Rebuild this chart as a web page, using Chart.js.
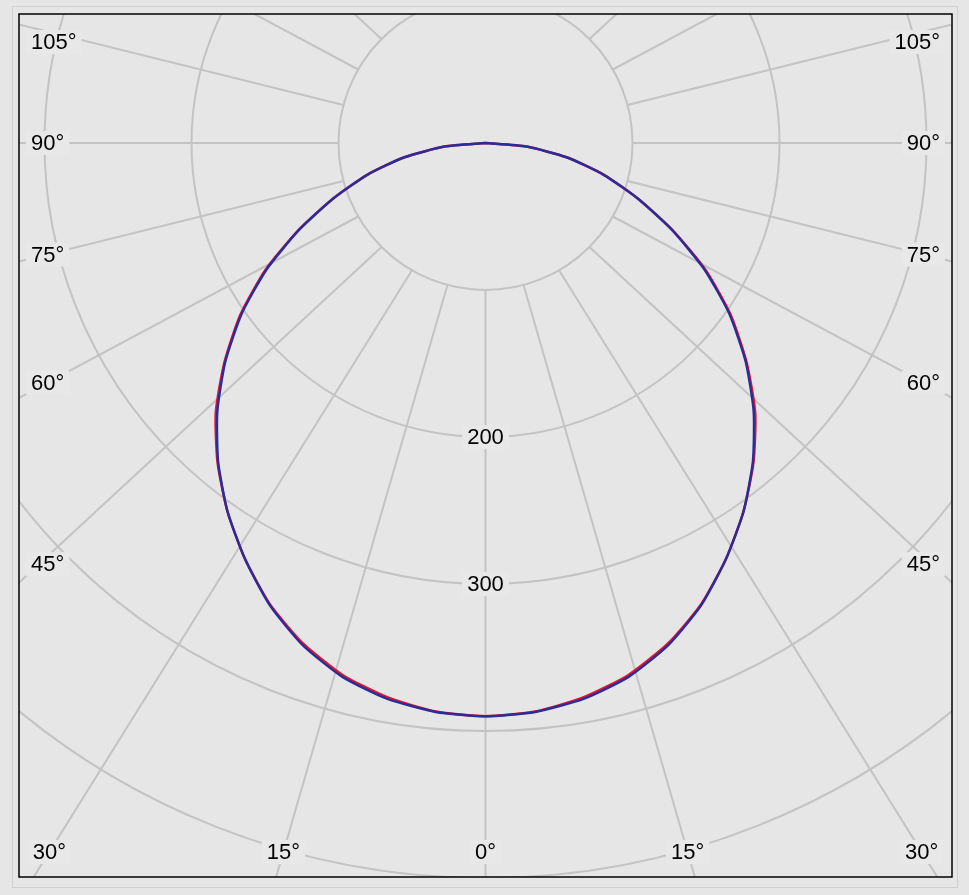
<!DOCTYPE html>
<html>
<head>
<meta charset="utf-8">
<script src="https://cdn.jsdelivr.net/npm/chart.js@4.4.1/dist/chart.umd.min.js"></script>
<style>
  html, body { margin: 0; padding: 0; background: #e6e6e6; }
  canvas { display: block; }
</style>
</head>
<body>
<canvas id="polarChart" width="969" height="895"></canvas>
<script>
// Luminous intensity (cd) per gamma angle
const gammaAngles = [0, 5, 10, 15, 20, 25, 30, 35, 40, 45, 50, 55, 60, 65, 70, 75, 80, 85, 90];
const bluePlane = [390, 388.5, 384, 376, 363.5, 347, 327, 306, 283, 258, 231, 202.5, 172, 140, 110, 83, 56, 28, 0];
const redPlane  = [390, 388.2, 383, 374.8, 362.5, 346.6, 327, 306, 283.6, 259.5, 231.8, 203.5, 173, 140.5, 110, 83, 56, 28, 0];

// grid
const ringValues = [100, 200, 300, 400, 500];
const ringLabels = [200, 300];
const spokeAngles = [0, 15, 30, 45, 60, 75, 90, 105, 120, 135, 150, 165, 180, 195, 210, 225, 240, 255, 270, 285, 300, 315, 330, 345];
const bottomTicks = [0, 15, 30];
const sideTicks = [45, 60, 75, 90, 105];

const PX_PER_CD = 1.47;
const SPOKE_STRETCH = 1.08; // the original spokes lean a little wider than the rings

function polar(deg, cd) {
    const a = deg * Math.PI / 180;
    return { x: cd * Math.sin(a), y: -cd * Math.cos(a) };
}

// left half runs from 90 down to 0, right half from 0 up to 90
function toPoints(values) {
    const pts = [];
    for (let i = gammaAngles.length - 1; i >= 0; i--) pts.push(polar(-gammaAngles[i], values[i]));
    for (let i = 1; i < gammaAngles.length; i++) pts.push(polar(gammaAngles[i], values[i]));
    return pts;
}

const labelFont = '22px "Liberation Sans", Arial, sans-serif';

function drawLabel(ctx, text, xc, yc) {
    const w = ctx.measureText(text).width;
    ctx.fillStyle = '#e8e8e8';
    ctx.fillRect(xc - w / 2 - 5, yc - 12, w + 10, 24);
    ctx.fillStyle = '#000000';
    ctx.fillText(text, xc, yc + 1);
}

const polarGrid = {
    id: 'polarGrid',
    beforeDraw(chart) {
        const ctx = chart.ctx;
        ctx.save();
        ctx.fillStyle = '#e6e6e6';
        ctx.fillRect(0, 0, chart.width, chart.height);
        ctx.strokeStyle = '#d0d0d0';
        ctx.lineWidth = 1;
        ctx.strokeRect(12.5, 6.5, 945, 881);
        ctx.restore();
    },
    beforeDatasetsDraw(chart) {
        const { ctx, chartArea: area, scales: { x, y } } = chart;
        const cx = x.getPixelForValue(0);
        const cy = y.getPixelForValue(0);
        const k = x.getPixelForValue(1) - cx;

        ctx.save();
        ctx.beginPath();
        ctx.rect(area.left, area.top, area.right - area.left, area.bottom - area.top);
        ctx.clip();

        ctx.strokeStyle = '#c3c3c3';
        ctx.lineWidth = 2;

        ringValues.forEach(v => {
            ctx.beginPath();
            ctx.arc(cx, cy, v * k, 0, Math.PI * 2);
            ctx.stroke();
        });

        const r1 = ringValues[0] * k;
        const spokePoint = deg => {
            const a = deg * Math.PI / 180;
            return {
                px: cx + r1 * Math.sin(a), py: cy + r1 * Math.cos(a),
                dx: SPOKE_STRETCH * Math.sin(a), dy: Math.cos(a)
            };
        };

        spokeAngles.forEach(deg => {
            const s = spokePoint(deg);
            ctx.beginPath();
            ctx.moveTo(s.px, s.py);
            ctx.lineTo(s.px + s.dx * 2000, s.py + s.dy * 2000);
            ctx.stroke();
        });

        ctx.font = labelFont;
        ctx.textAlign = 'center';
        ctx.textBaseline = 'middle';

        ringLabels.forEach(v => drawLabel(ctx, String(v), cx, cy + v * k));

        // angle labels sit where each spoke reaches the edge band
        const yBottom = area.bottom - 25;
        bottomTicks.forEach(deg => {
            [1, -1].forEach(side => {
                if (deg === 0 && side < 0) return;
                const s = spokePoint(side * deg);
                const xc = s.px + (yBottom - s.py) / s.dy * s.dx;
                drawLabel(ctx, deg + '°', xc, yBottom);
            });
        });
        sideTicks.forEach(deg => {
            const text = deg + '°';
            const w = ctx.measureText(text).width;
            [1, -1].forEach(side => {
                const s = spokePoint(side * deg);
                const xc = side > 0 ? area.right - 12 - w / 2 : area.left + 12 + w / 2;
                let yc = s.py + (xc - s.px) / s.dx * s.dy;
                if (deg === 45) yc += 8;
                yc = Math.max(yc, area.top + 28);
                drawLabel(ctx, text, xc, yc);
            });
        });

        ctx.restore();
    },
    afterDraw(chart) {
        const { ctx, chartArea: area } = chart;
        ctx.save();
        ctx.strokeStyle = '#000000';
        ctx.lineWidth = 1.5;
        ctx.strokeRect(area.left, area.top, area.right - area.left, area.bottom - area.top);
        ctx.restore();
    }
};

const W = 969, H = 895;
const pad = { left: 19, top: 14, right: 17, bottom: 18 };
const centerPx = { x: 485.5, y: 143 };

new Chart(document.getElementById('polarChart'), {
    type: 'scatter',
    data: {
        datasets: [{
            label: 'C0 - C180',
            data: toPoints(bluePlane),
            showLine: true,
            borderColor: '#2c2c98',
            borderWidth: 2.5,
            pointRadius: 0,
            tension: 0.2,
            fill: false
        }, {
            label: 'C90 - C270',
            data: toPoints(redPlane),
            showLine: true,
            borderColor: '#e3162e',
            borderWidth: 2.5,
            pointRadius: 0,
            tension: 0.2,
            fill: false
        }]
    },
    options: {
        responsive: false,
        devicePixelRatio: 1,
        animation: false,
        layout: { padding: pad },
        plugins: {
            legend: { display: false },
            tooltip: { enabled: false }
        },
        scales: {
            x: {
                type: 'linear',
                display: false,
                min: -(centerPx.x - pad.left) / PX_PER_CD,
                max: (W - pad.right - centerPx.x) / PX_PER_CD
            },
            y: {
                type: 'linear',
                display: false,
                min: -(H - pad.bottom - centerPx.y) / PX_PER_CD,
                max: (centerPx.y - pad.top) / PX_PER_CD
            }
        }
    },
    plugins: [polarGrid]
});
</script>
</body>
</html>
